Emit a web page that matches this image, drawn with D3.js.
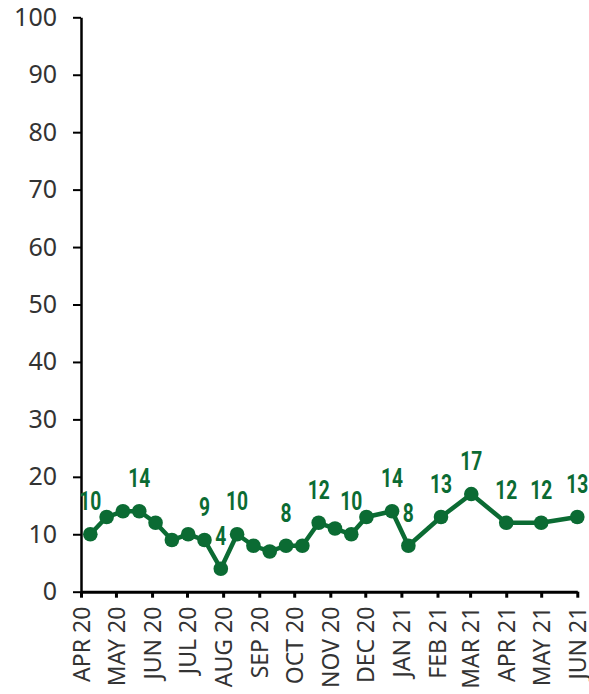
<!DOCTYPE html>
<html>
<head>
<meta charset="utf-8">
<script src="https://cdn.jsdelivr.net/npm/d3@7"></script>
<style>
  html, body { margin: 0; padding: 0; background: #ffffff; }
  svg { display: block; }
</style>
</head>
<body>
<svg id="chart" width="589" height="694"></svg>
<script>
// Survey dates (fortnightly through 2020, then monthly)
const surveyDates = [
  "2020-04-09", "2020-04-23", "2020-05-07", "2020-05-21", "2020-06-04",
  "2020-06-18", "2020-07-02", "2020-07-16", "2020-07-30", "2020-08-13",
  "2020-08-27", "2020-09-10", "2020-09-24", "2020-10-08", "2020-10-22",
  "2020-11-05", "2020-11-19", "2020-12-02", "2020-12-24", "2021-01-07",
  "2021-02-04", "2021-03-02", "2021-04-01", "2021-05-01", "2021-06-01"
];

// Share of respondents, percent
const values = [
  10, 13, 14, 14, 12,
  9, 10, 9, 4, 10,
  8, 7, 8, 8, 12,
  11, 10, 13, 14, 8,
  13, 17, 12, 12, 13
];

// Points that carry a value label
const labelled = [
  true, false, false, true, false,
  false, false, true, true, true,
  false, false, true, false, true,
  false, true, false, true, true,
  true, true, true, true, true
];

// Month ticks on the x axis
const monthTicks = [
  "2020-04-01", "2020-05-01", "2020-06-01", "2020-07-01", "2020-08-01",
  "2020-09-01", "2020-10-01", "2020-11-01", "2020-12-01", "2021-01-01",
  "2021-02-01", "2021-03-01", "2021-04-01", "2021-05-01", "2021-06-01"
];
const monthLabels = [
  "APR 20", "MAY 20", "JUN 20", "JUL 20", "AUG 20",
  "SEP 20", "OCT 20", "NOV 20", "DEC 20", "JAN 21",
  "FEB 21", "MAR 21", "APR 21", "MAY 21", "JUN 21"
];

// Y axis ticks
const yTicks = [0, 10, 20, 30, 40, 50, 60, 70, 80, 90, 100];

const parse = d3.utcParse("%Y-%m-%d");
const points = surveyDates.map((d, i) => ({
  date: parse(d), value: values[i], labelled: labelled[i]
}));
const tickDates = monthTicks.map(parse);

const GREEN = "#0b6b33";
const svg = d3.select("#chart");

const x = d3.scaleUtc()
  .domain([tickDates[0], tickDates[tickDates.length - 1]])
  .range([81, 577.3]);

const y = d3.scaleLinear()
  .domain([0, 100])
  .range([591.7, 17.3]);

// Y axis
const yAxis = svg.append("g")
  .attr("transform", `translate(${x.range()[0]},0)`)
  .call(d3.axisLeft(y).tickValues(yTicks).tickSize(8).tickPadding(16).tickSizeOuter(0));
yAxis.select(".domain").attr("stroke", "#000").attr("stroke-width", 2.5);
yAxis.selectAll(".tick line").attr("stroke", "#000").attr("stroke-width", 2);
yAxis.selectAll(".tick text")
  .attr("fill", "#333")
  .style("font-family", "'Noto Sans', 'Open Sans', sans-serif")
  .style("font-size", "25px");

// X axis
const xAxis = svg.append("g")
  .attr("transform", `translate(0,${y(0)})`)
  .call(d3.axisBottom(x)
    .tickValues(tickDates)
    .tickFormat((d, i) => monthLabels[i])
    .tickSize(6)
    .tickSizeOuter(0));
xAxis.select(".domain").attr("stroke", "#000").attr("stroke-width", 3);
xAxis.selectAll(".tick line").attr("stroke", "#000").attr("stroke-width", 3);
xAxis.selectAll(".tick text")
  .attr("fill", "#333")
  .attr("text-anchor", "end")
  .attr("transform", "rotate(-90)")
  .attr("x", -15)
  .attr("y", 0)
  .attr("dy", "0.35em")
  .style("font-family", "'Noto Sans', 'Open Sans', sans-serif")
  .style("font-size", "23px");

// Series line
const line = d3.line()
  .x(d => x(d.date))
  .y(d => y(d.value));

svg.append("path")
  .datum(points)
  .attr("fill", "none")
  .attr("stroke", GREEN)
  .attr("stroke-width", 4.5)
  .attr("stroke-linejoin", "round")
  .attr("d", line);

// Markers
svg.append("g")
  .selectAll("circle")
  .data(points)
  .join("circle")
  .attr("cx", d => x(d.date))
  .attr("cy", d => y(d.value))
  .attr("r", 7.3)
  .attr("fill", GREEN);

// Value labels, drawn in a condensed bold face
svg.append("g")
  .selectAll("text")
  .data(points.filter(d => d.labelled))
  .join("text")
  .attr("transform", d => `translate(${x(d.date)},${y(d.value) - 24}) scale(0.74,1)`)
  .attr("text-anchor", "middle")
  .attr("fill", GREEN)
  .style("font-family", "Roboto, 'Noto Sans', sans-serif")
  .style("font-weight", "bold")
  .style("font-size", "26px")
  .text(d => d.value);
</script>
</body>
</html>
